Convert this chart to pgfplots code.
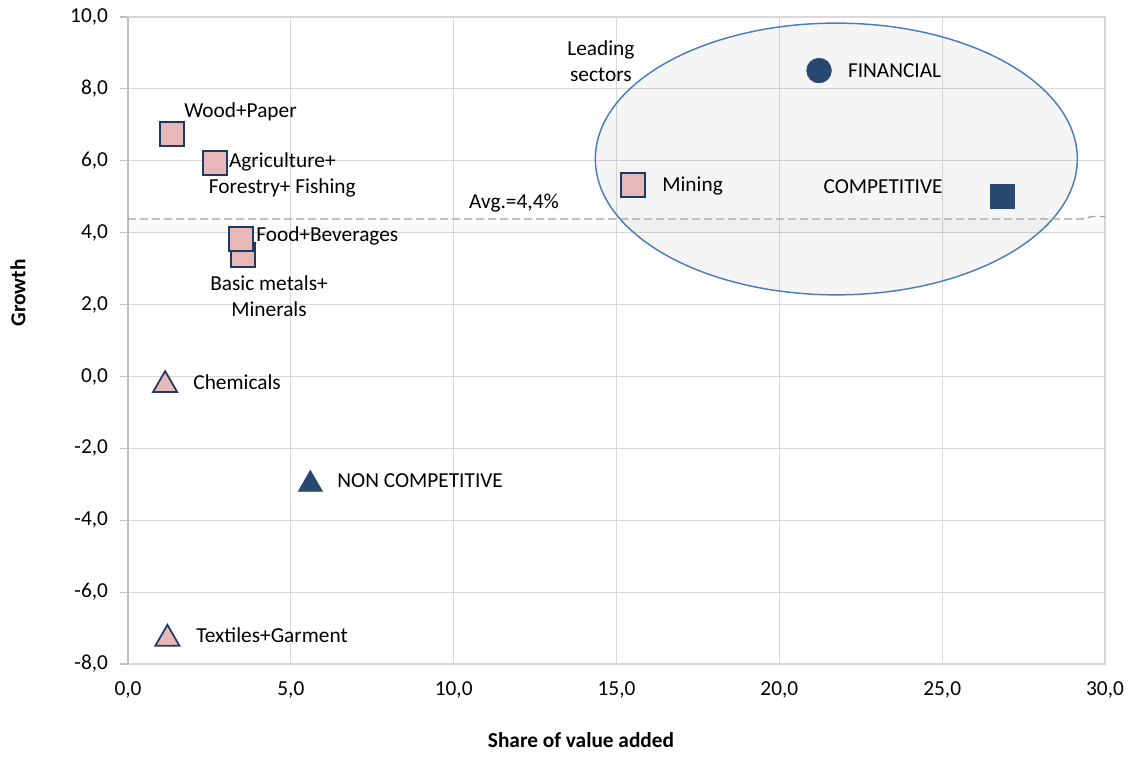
\documentclass[border=0pt]{standalone}
\usepackage{fontspec}
\setmainfont{Carlito}
\usepackage{pgfplots}
\pgfplotsset{compat=1.18}
\definecolor{gridc}{HTML}{D9D9D9}
\definecolor{axc}{HTML}{BFBFBF}
\definecolor{zeroc}{HTML}{A6A6A6}
\definecolor{pinkf}{HTML}{E6B9B8}
\definecolor{navy}{HTML}{1F3864}
\definecolor{darkm}{HTML}{284870}
\definecolor{ellc}{HTML}{4A7EBB}
\definecolor{avgc}{HTML}{A6A6A6}
\begin{document}
\fontsize{16pt}{19.5pt}\selectfont
\begin{tikzpicture}
\begin{axis}[name=ax, scale only axis, width=732.75pt, height=485.25pt,
  xmin=0, xmax=30, ymin=-8, ymax=10,
  xtick={0,5,...,30}, ytick={-8,-6,...,10},
  grid=major, major grid style={gridc, line width=0.9pt},
  axis line style={gridc, line width=0.9pt},
  extra x ticks={0}, extra x tick labels={},
  extra y ticks={0}, extra y tick labels={},
  extra tick style={grid style={zeroc, line width=1pt}, major tick length=0pt},
  ytick pos=left, xtick pos=bottom, tick align=outside,
  major tick length=6pt,
  xtick style={draw=none},
  ytick style={axc, line width=0.9pt},
  /pgf/number format/assume math mode=true,
  /pgf/number format/.cd, fixed, fixed zerofill, precision=1, use comma, 1000 sep={},
  /pgfplots/.cd,
  yticklabel style={font=\fontsize{16pt}{19pt}\selectfont, xshift=-3.5pt},
  xticklabel style={font=\fontsize{16pt}{19pt}\selectfont, yshift=-1.5pt},
  clip=false,
]
% left axis line
\addplot[axc, line width=1pt, forget plot] coordinates {(0,-8) (0,10)};
% ellipse of leading sectors
\draw[ellc, line width=1.1pt, fill=black, fill opacity=0.04] (axis cs:21.75,6.05) ellipse [x radius=7.40, y radius=3.78];
% shadow band of average line
\addplot[black, opacity=0.02, line width=12pt, forget plot] coordinates {(0,4.22) (30,4.22)};
% average line
\addplot[avgc, line width=1.1pt, dash pattern=on 6pt off 3pt, forget plot] coordinates {(0,4.38) (29.3,4.38) (29.6,4.45) (30,4.45)};
% pink sector squares
\addplot[only marks, mark=square*, mark size=9pt, mark options={fill=pinkf, draw=navy, line width=1.3pt}] coordinates {(1.35,6.74) (2.67,5.94) (3.52,3.38) (3.46,3.83) (15.51,5.33)};
% pink triangles
\addplot[only marks, mark=triangle*, mark size=10.5pt, mark options={fill=pinkf, draw=navy, line width=1.3pt}] coordinates {(1.14,-0.24) (1.21,-7.30)};
% dark markers
\addplot[only marks, mark=square*, mark size=9pt, mark options={fill=darkm, draw=darkm}] coordinates {(26.83,5.0)};
\addplot[only marks, mark=triangle*, mark size=10.5pt, mark options={fill=darkm, draw=darkm}] coordinates {(5.60,-3.0)};
\addplot[only marks, mark=*, mark size=9.3pt, mark options={fill=darkm, draw=darkm}] coordinates {(21.22,8.51)};
% labels
\node[anchor=west, inner sep=0pt] at (axis cs:1.72,7.36) {Wood+Paper};
\node[align=center, inner sep=0pt] at (axis cs:4.74,5.62) {Agriculture+\\Forestry+ Fishing};
\node[anchor=west, inner sep=0pt] at (axis cs:3.93,3.90) {Food+Beverages};
\node[align=center, inner sep=0pt] at (axis cs:4.33,2.24) {Basic metals+\\Minerals};
\node[anchor=west, inner sep=0pt] at (axis cs:2.0,-0.16) {Chemicals};
\node[anchor=west, inner sep=0pt] at (axis cs:2.09,-7.20) {Textiles+Garment};
\node[anchor=west, inner sep=0pt] at (axis cs:6.42,-2.91) {NON COMPETITIVE};
\node[anchor=west, inner sep=0pt] at (axis cs:16.40,5.30) {Mining};
\node[anchor=west, inner sep=0pt] at (axis cs:21.35,5.27) {COMPETITIVE};
\node[anchor=west, inner sep=0pt] at (axis cs:22.10,8.50) {FINANCIAL};
\node[align=center, inner sep=0pt] at (axis cs:14.52,8.78) {Leading\\sectors};
\node[anchor=west, inner sep=0pt] at (axis cs:10.47,4.82) {Avg.=4,4\%};
\end{axis}
\node[rotate=90, font=\bfseries] at ([xshift=-82.5pt, yshift=278.25pt]ax.south west) {Growth};
\node[font=\bfseries] at ([xshift=339.75pt, yshift=-57pt]ax.south west) {Share of value added};
\pgfresetboundingbox
\path[use as bounding box] ([xshift=-96pt, yshift=-70.5pt]ax.south west) rectangle ([xshift=18pt, yshift=12.75pt]ax.north east);
\end{tikzpicture}
\end{document}
